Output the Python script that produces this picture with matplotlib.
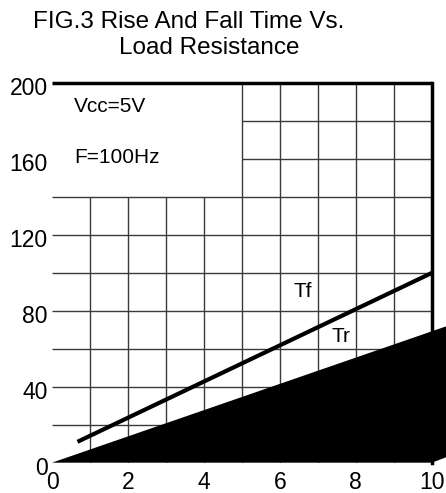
import matplotlib
matplotlib.use("Agg")
import matplotlib.pyplot as plt
from matplotlib.transforms import ScaledTranslation

plt.rcParams["font.family"] = ["Liberation Sans", "DejaVu Sans"]

# data
tf_x = [0.67, 10.0]
tf_y = [11, 100]
tr_x = [0.0, 10.4, 10.4, 10.0]
tr_y = [0, 72, 3, 0]

x_ticks = [0, 2, 4, 6, 8, 10]
y_ticks = [0, 40, 80, 120, 160, 200]

# grid pieces (the chart leaves the upper-left block open for the notes)
h_full = [20, 40, 60, 80, 100, 120, 140]
h_part = [160, 180]
v_short = [1, 2, 3, 4]
v_long = [5, 6, 7, 8, 9]

fig = plt.figure(figsize=(4.46, 4.93), dpi=100)
ax = fig.add_axes([0.1166, 0.0615, 0.8514, 0.7696])
ax.set_xlim(0, 10)
ax.set_ylim(0, 200)

gc = "#3a3a3a"
ax.hlines(h_full, 0, 10, color=gc, lw=1.0, zorder=1)
ax.hlines(h_part, 5, 10, color=gc, lw=1.0, zorder=1)
ax.vlines(v_short, 0, 140, color=gc, lw=1.0, zorder=1)
ax.vlines(v_long, 0, 200, color=gc, lw=1.0, zorder=1)

ax.plot([0, 10], [200, 200], color="black", lw=2.5, solid_capstyle="butt", zorder=3, clip_on=False)
ax.plot([10, 10], [0, 200], color="black", lw=2.5, solid_capstyle="projecting", zorder=3, clip_on=False)

ax.fill(tr_x, tr_y, color="black", lw=0, zorder=4, clip_on=False)
ax.plot(tf_x, tf_y, color="black", lw=3, solid_capstyle="butt", zorder=5)

for s in ax.spines.values():
    s.set_visible(False)
ax.set_xticks(x_ticks)
ax.set_yticks(y_ticks)
ax.tick_params(length=0, labelsize=16.5)
ax.tick_params(axis="x", pad=6)
ax.tick_params(axis="y", pad=3)
shift = ScaledTranslation(0, -3 / 100, fig.dpi_scale_trans)
for lab in ax.get_yticklabels():
    lab.set_transform(lab.get_transform() + shift)

ax.text(0.58, 187.5, "Vcc=5V", fontsize=15, va="center", ha="left")
ax.text(0.58, 161, "F=100Hz", fontsize=15, va="center", ha="left")
ax.text(6.37, 90.4, "Tf", fontsize=15, va="center", ha="left")
ax.text(7.36, 66.7, "Tr", fontsize=15, va="center", ha="left")

fig.text(188.5 / 446, 1 - 22 / 493, "FIG.3 Rise And Fall Time Vs.", fontsize=17.5, ha="center", va="center")
fig.text(209.7 / 446, 1 - 48 / 493, "Load Resistance", fontsize=17.5, ha="center", va="center")

fig.savefig("out.png", dpi=100)
